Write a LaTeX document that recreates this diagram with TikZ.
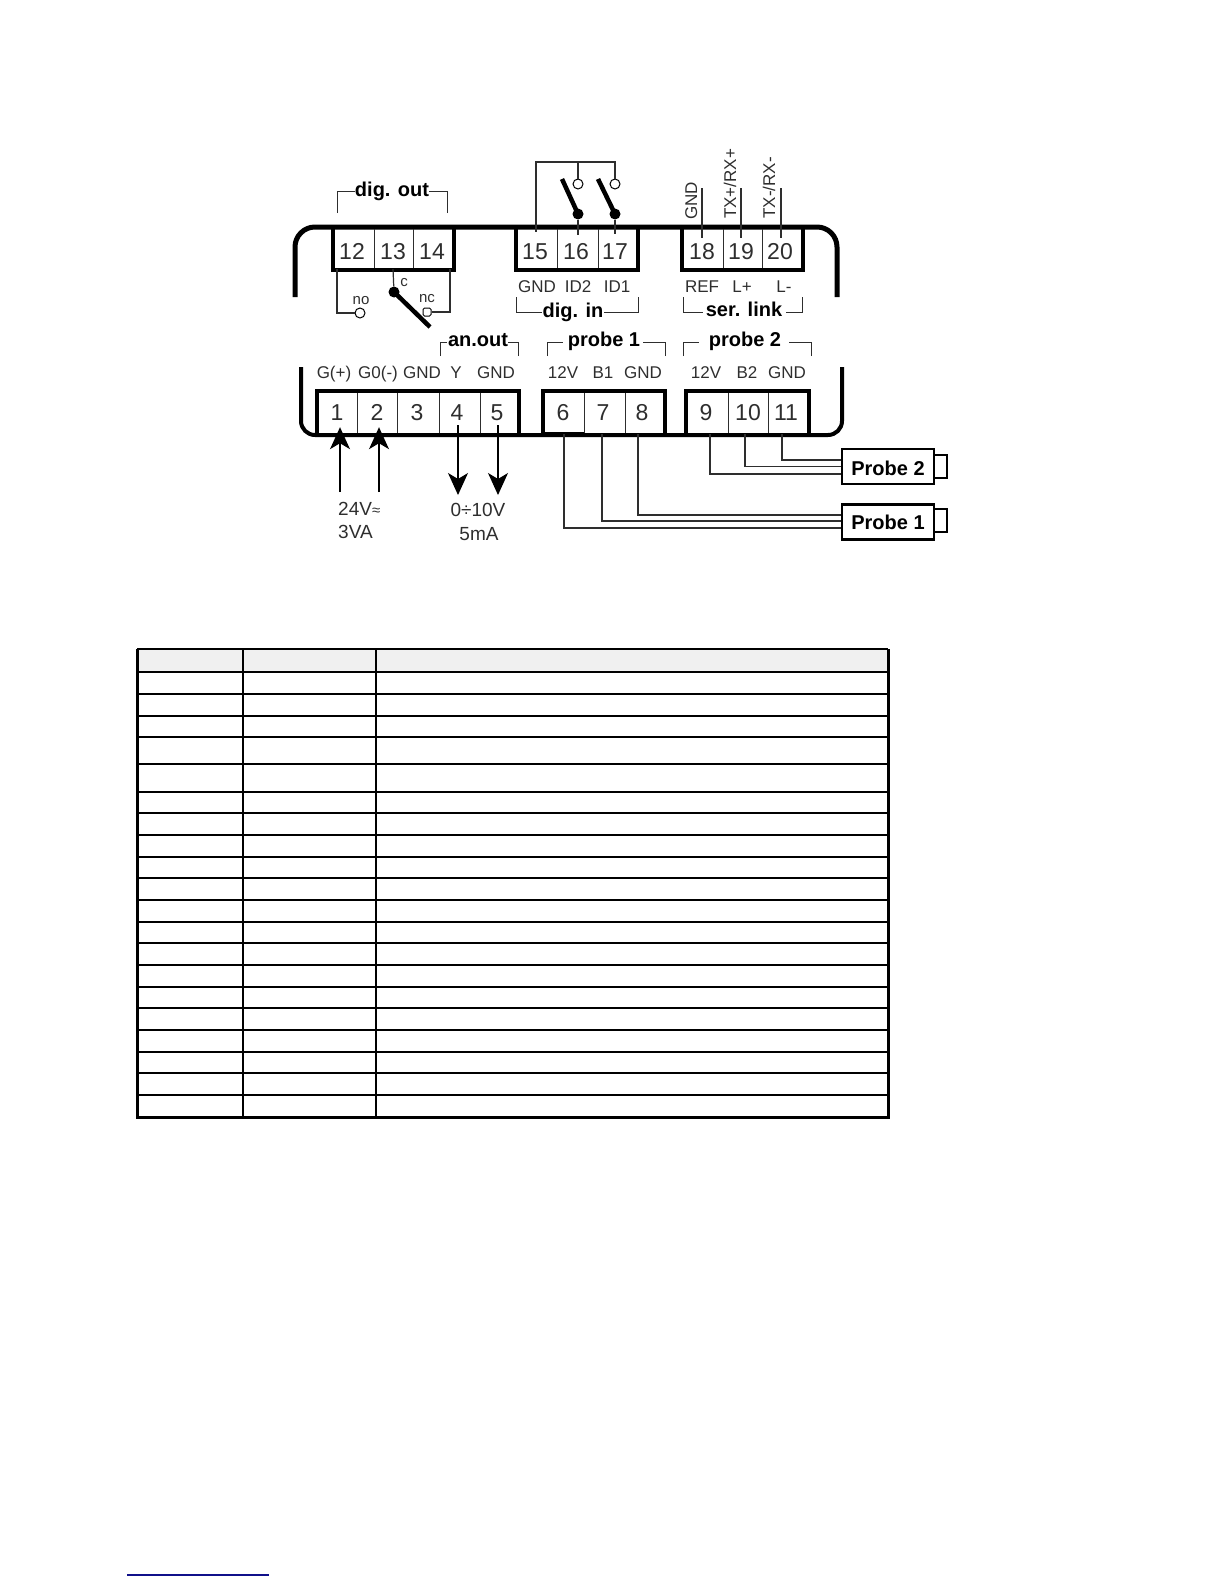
\documentclass[tikz,border=0pt]{standalone}
\usepackage{fontspec}
\setmainfont{Liberation Sans}
\usetikzlibrary{calc,arrows.meta}
\definecolor{inkgrey}{HTML}{2E2E2E}
\definecolor{headgrey}{HTML}{F0F0F0}
\definecolor{linkblue}{HTML}{10108A}
\def\fsize#1{\fontsize{#1}{#1}\selectfont}
\tikzset{
	term/.style={inner sep=0, minimum width=38pt, text=inkgrey, text height=16.2pt, text depth=0pt, font=\fsize{23}},
	termtop/.style={term, minimum height=36pt},
	termlow/.style={term, minimum height=44pt},
	lab/.style={inner sep=0, text=inkgrey, text height=12.3pt, text depth=0pt, font=\fsize{17}},
	grouplab/.style={inner sep=0, text=black, text height=14.5pt, text depth=4.2pt, font=\fsize{20}\bfseries},
	smalllab/.style={inner sep=0, text=inkgrey, font=\fsize{15}},
	vallab/.style={inner sep=0, text=inkgrey, text height=13.6pt, text depth=0pt, font=\fsize{19}},
	wire/.style={line width=1.2pt, color=inkgrey},
	feed/.style={line width=1.2pt, color=black, -{Stealth[length=22pt,width=20pt,inset=6pt]}},
	bracket/.style={line width=1pt, color=inkgrey},
	housing/.style={line width=5pt, color=black},
	box/.style={line width=4.5pt, color=black},
	divider/.style={line width=1pt, color=inkgrey},
	lever/.style={line width=4.5pt, color=black},
	contact/.style={circle, draw, line width=1pt, fill=white, inner sep=0, minimum size=10pt},
	pivot/.style={circle, fill=black, inner sep=0, minimum size=11pt},
	probebox/.style={draw, line width=2.6pt, inner sep=0, minimum width=92pt, minimum height=35pt, text height=14.3pt, text depth=0pt, font=\fsize{20}\bfseries},
	thinrow/.style={line width=1.1pt},
	thickrow/.style={line width=2.2pt},
}

\begin{document}
\begin{tikzpicture}[x=1pt, y=-1pt]
	\useasboundingbox (0, 0) rectangle (1224, 1584);
	%%%%% HOUSING %%%%%

	\draw[housing, rounded corners=20pt] (295, 297) -- (295, 227) -- (837, 227) -- (837, 297);
	\draw[housing, line width=4pt, rounded corners=14pt] (301, 367) -- (301, 435) -- (842, 435) -- (842, 367);

	%%%%% TERMINALS %%%%%

	\foreach \n/\x in {12/352, 13/393, 14/432, 15/535, 16/576, 17/615, 18/702, 19/741, 20/780}
		\node[termtop] (t\n) at (\x, 251) {\n};
	\foreach \n/\x in {1/337, 2/377, 3/417, 4/457, 5/497, 6/563, 7/603, 8/642, 9/706, 10/748, 11/786}
		\node[termlow] (t\n) at (\x, 412) {\n};

	\draw[box] (333, 227) rectangle (454, 270);
	\draw[box] (516, 227) rectangle (638, 270);
	\draw[box] (682, 227) rectangle (803, 270);
	\foreach \x in {374, 413, 557, 598, 723, 762}
		\draw[divider] (\x, 229) -- (\x, 268);

	\draw[box] (519, 435) -- (519, 391) -- (317, 391) -- (317, 435);
	\draw[box] (543, 435) -- (543, 391) -- (665, 391) -- (665, 435);
	\draw[box] (686, 435) -- (686, 391) -- (809, 391) -- (809, 435);
	\draw[box] (543, 434) -- (584, 434);
	\foreach \x in {357, 397, 439, 480, 584, 625, 728, 768}
		\draw[divider] (\x, 393) -- (\x, 433);

	%%%%% LABELS %%%%%

	\foreach \n/\x/\t in {a/537/GND, b/578/ID2, c/617/ID1, d/702/REF, e/742/L+, f/784/L-}
		\node[lab] (up\n) at (\x, 286) {\t};
	\foreach \n/\x/\t in {a/334/G(+), b/378/G0(-), c/422/GND, d/456/Y, e/496/GND, f/563/12V, g/603/B1, h/643/GND, i/706/12V, j/747/B2, k/787/GND}
		\node[lab] (low\n) at (\x, 372) {\t};
	\node[lab, rotate=90] (sergnd) at (691, 201) {GND};
	\node[lab, rotate=90] (sertxp) at (730, 184) {TX+/RX+};
	\node[lab, rotate=90] (sertxm) at (769, 188) {TX-/RX-};

	\node[grouplab] (digout) at (392, 191) {dig. out};
	\node[grouplab] (digin) at (573, 312) {dig. in};
	\node[grouplab] (serlink) at (744, 311) {ser. link};
	\node[grouplab] (anout) at (478, 341) {an.out};
	\node[grouplab] (probeone) at (604, 341) {probe 1};
	\node[grouplab] (probetwo) at (745, 341) {probe 2};

	\draw[bracket] (337, 213) |- (digout.west);
	\draw[bracket] (447, 213) |- (digout.east);
	\draw[bracket] (516, 297) |- (digin.west);
	\draw[bracket] (638, 297) |- (digin.east);
	\draw[bracket] (683, 297) -- (683, 312) -- (703, 312);
	\draw[bracket] (802, 297) -- (802, 312) -- (786, 312);
	\draw[bracket] (440, 356) -- (440, 342) -- (447, 342);
	\draw[bracket] (518, 356) -- (518, 342) -- (508, 342);
	\draw[bracket] (547, 356) -- (547, 342) -- (563, 342);
	\draw[bracket] (665, 356) -- (665, 342) -- (643, 342);
	\draw[bracket] (683, 356) -- (683, 342) -- (699, 342);
	\draw[bracket] (811, 356) -- (811, 342) -- (789, 342);

	%%%%% DIG. OUT CHANGEOVER %%%%%

	\node[contact] (no) at (360, 313) {};
	\node[contact, rectangle, rounded corners=1.5pt, minimum size=8pt] (nc) at (427, 312) {};
	\node[pivot] (common) at (394, 292) {};
	\coordinate (commontip) at (430, 327);
	\node[smalllab] (nolab) at (361, 301) {no};
	\node[smalllab] (nclab) at (427, 299) {nc};
	\node[smalllab] (clab) at (404, 283) {c};

	\draw[wire] ($(t12.south)+(-15, 0)$) |- (no.west);
	\draw[wire] ($(t14.south)+(18, 0)$) |- (nc.east);
	\draw[wire] (t13.south) -- (common);
	\draw[lever] (common.center) -- (commontip);

	%%%%% DIG. IN CONTACTS %%%%%

	\node[contact] (conb) at (578, 184) {};
	\node[contact] (cona) at (615, 184) {};
	\node[pivot] (dotb) at (578, 214) {};
	\node[pivot] (dota) at (615, 214) {};
	\coordinate (leverb) at (562, 179);
	\coordinate (levera) at (598, 179);
	\coordinate (busend) at (615, 162);

	\draw[wire] ($(t15.north)+(1, -1)$) |- (busend) -- (cona.north);
	\draw[wire] (conb.north) -- (conb.north |- busend);
	\draw[lever] (dotb.center) -- (leverb);
	\draw[lever] (dota.center) -- (levera);
	\draw[wire] (dotb) -- ($(t16.north)+(2, 2)$);
	\draw[wire] (dota) -- ($(t17.north)+(0, 1)$);

	%%%%% SERIAL WIRES %%%%%

	\draw[wire] ($(t18.north)+(0, 5)$) -- ++(0, -50);
	\draw[wire] ($(t19.north)+(0, 5)$) -- ++(0, -50);
	\draw[wire] ($(t20.north)+(1, 5)$) -- ++(0, -50);

	%%%%% POWER AND ANALOG OUT %%%%%

	\node[vallab, anchor=west] (supplya) at (338, 509) {24V{\fsize{15}≈}};
	\node[vallab, anchor=west] (supplyb) at (338, 532) {3VA};
	\node[vallab] (outa) at (478, 510) {0÷10V};
	\node[vallab] (outb) at (479, 534) {5mA};

	\draw[feed] ($(supplya.north west)+(2, -10)$) -- ($(t1.south)+(3, -7)$);
	\draw[feed] ($(supplya.north west)+(41, -10)$) -- ($(t2.south)+(2, -7)$);
	\draw[feed] ($(t4.center)+(1, 13)$) -- ++(0, 70);
	\draw[feed] ($(t5.center)+(1, 13)$) -- ++(0, 70);

	%%%%% PROBES %%%%%

	\node[probebox, text height=17pt] (sensortwo) at (888, 466.5) {Probe 2};
	\node[probebox] (sensorone) at (888, 522) {Probe 1};
	\draw[line width=2pt] (sensortwo.east |- 0, 455) -- (947, 455) -- (947, 478) -- (sensortwo.east |- 0, 478);
	\draw[line width=2pt] (sensorone.east |- 0, 509) -- (947, 509) -- (947, 532) -- (sensorone.east |- 0, 532);

	\draw[wire] ($(t11.south)+(-4, 0)$) |- ($(sensortwo.west)+(0, -6.5)$);
	\draw[wire] ($(t10.south)+(-3, 0)$) |- (sensortwo.west);
	\draw[wire] ($(t9.south)+(4, 0)$) |- ($(sensortwo.west)+(0, 7.5)$);
	\draw[wire] ($(t8.south)+(-4, 0)$) |- ($(sensorone.west)+(0, -7)$);
	\draw[wire] ($(t7.south)+(-1, 0)$) |- ($(sensorone.west)+(0, -1)$);
	\draw[wire] ($(t6.south)+(1, 0)$) |- ($(sensorone.west)+(0, 6)$);

	%%%%% TABLE %%%%%

	\fill[headgrey] (137, 649) rectangle (888, 672);
	\foreach \y in {694, 737, 764, 813, 835, 878, 900, 943, 965, 1008, 1030, 1073, 1095}
		\draw[thinrow] (137, \y) -- (888, \y);
	\foreach \y in {649, 672, 716, 792, 857, 922, 987, 1052}
		\draw[thickrow] (137, \y) -- (888, \y);
	\foreach \x in {243, 376}
		\draw[line width=2pt] (\x, 649) -- (\x, 1117);
	\draw[line width=3pt] (137, 649) -- (137, 1117) -- (888, 1117) -- (888, 649);

	\draw[line width=1.5pt, color=linkblue] (127, 1575) -- (269, 1575);
\end{tikzpicture}
\end{document}
